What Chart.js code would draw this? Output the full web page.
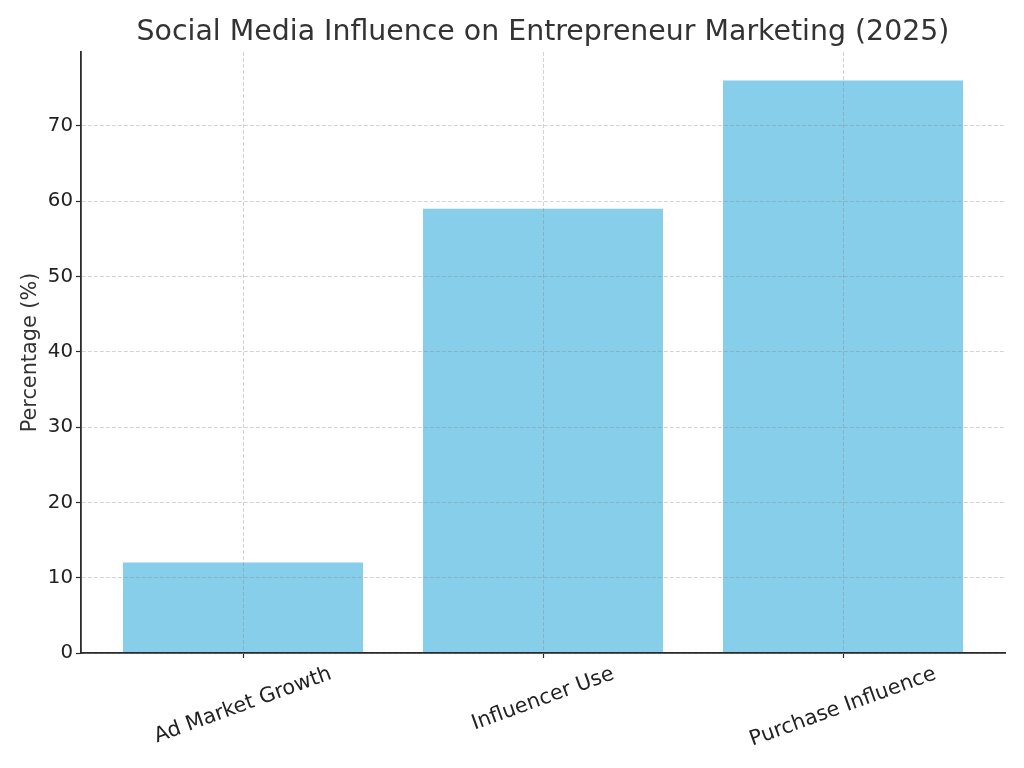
<!DOCTYPE html>
<html lang="en">
<head>
<meta charset="UTF-8">
<title>Social Media Influence on Entrepreneur Marketing (2025)</title>
<script src="https://cdn.jsdelivr.net/npm/chart.js@4.4.1/dist/chart.umd.min.js"></script>
<style>
  body { margin: 0; background: #fff; }
  .wrap { width: 1024px; height: 768px; }
</style>
</head>
<body>
<div class="wrap"><canvas id="chart" width="1024" height="768"></canvas></div>
<script>
const categories = ['Ad Market Growth', 'Influencer Use', 'Purchase Influence'];
const percentages = [12, 59, 76];
const yTicks = [0, 10, 20, 30, 40, 50, 60, 70];

const FONT = "'DejaVu Sans', sans-serif";
const gridColor = 'rgba(128,128,128,0.35)';
const axisColor = '#2b2b2b';

// rotated category labels, centred under each tick like matplotlib does it
const xLabels = {
  id: 'xLabels',
  afterDraw(chart) {
    const ctx = chart.ctx;
    const scale = chart.scales.x;
    const angle = 20 * Math.PI / 180;
    const size = 20.8;
    ctx.save();
    ctx.font = size + 'px ' + FONT;
    ctx.fillStyle = '#222';
    ctx.textAlign = 'center';
    ctx.textBaseline = 'middle';
    categories.forEach((label, i) => {
      const w = ctx.measureText(label).width;
      const h = size * 1.17;
      const cx = scale.getPixelForValue(i);
      const cy = chart.chartArea.bottom + 9 + (w * Math.sin(angle) + h * Math.cos(angle)) / 2;
      ctx.save();
      ctx.translate(cx, cy);
      ctx.rotate(-angle);
      ctx.fillText(label, 0, 0);
      ctx.restore();
    });
    ctx.restore();
  }
};

new Chart(document.getElementById('chart'), {
  type: 'bar',
  data: {
    datasets: [{
      data: percentages.map((v, i) => ({ x: i, y: v })),
      backgroundColor: '#87CEEB',
      borderWidth: 0,
      barPercentage: 1,
      categoryPercentage: 0.8
    }]
  },
  options: {
    responsive: false,
    animation: false,
    layout: { padding: { right: 19 } },
    plugins: {
      legend: { display: false },
      tooltip: { enabled: false },
      title: {
        display: true,
        fullSize: false,
        text: 'Social Media Influence on Entrepreneur Marketing (2025)',
        color: '#333',
        font: { family: FONT, size: 28.4, weight: 'normal' },
        padding: { top: 16, bottom: 1.9 }
      }
    },
    scales: {
      x: {
        type: 'linear',
        min: -0.54,
        max: 2.54,
        offset: false,
        afterBuildTicks: axis => { axis.ticks = categories.map((c, i) => ({ value: i })); },
        afterFit: scale => { scale.height = 115; },
        ticks: { callback: () => '' },
        grid: {
          offset: false,
          color: gridColor,
          lineWidth: 1,
          z: 1,
          tickColor: axisColor,
          tickLength: 5,
          tickWidth: 1.2,
          tickBorderDash: []
        },
        border: { color: axisColor, width: 1.8, dash: [4, 2], z: 2 }
      },
      y: {
        min: 0,
        max: 79.8,
        afterBuildTicks: axis => { axis.ticks = yTicks.map(v => ({ value: v })); },
        afterFit: scale => { scale.width = 81; },
        ticks: {
          color: '#222',
          padding: 3,
          font: { family: FONT, size: 19.8 }
        },
        grid: {
          color: gridColor,
          lineWidth: 1,
          z: 1,
          tickColor: axisColor,
          tickLength: 5,
          tickWidth: 1.2,
          tickBorderDash: []
        },
        border: { color: axisColor, width: 1.8, dash: [4, 2], z: 2 },
        title: {
          display: true,
          text: 'Percentage (%)',
          color: '#333',
          font: { family: FONT, size: 20.8 },
          padding: { top: 18, bottom: 0 }
        }
      }
    }
  },
  plugins: [xLabels]
});
</script>
</body>
</html>
